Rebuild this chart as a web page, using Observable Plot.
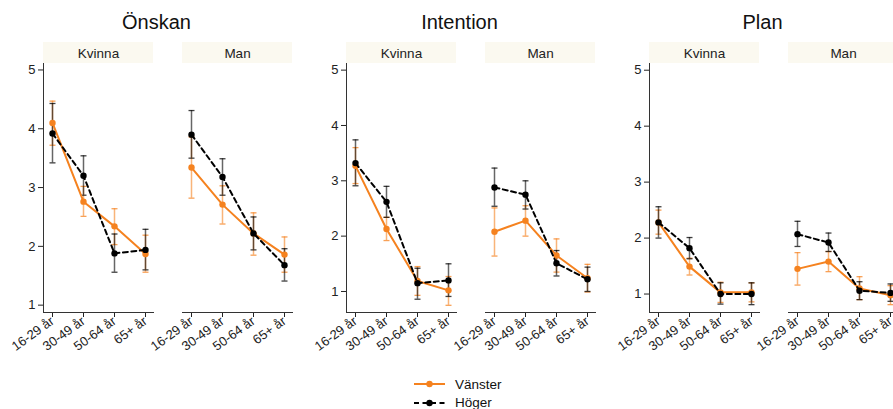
<!DOCTYPE html>
<html><head><meta charset="utf-8">
<script src="https://cdn.jsdelivr.net/npm/d3@7"></script>
<script src="https://cdn.jsdelivr.net/npm/@observablehq/plot@0.6"></script>
<style>
body{margin:0;background:#fff;font-family:"Liberation Sans",Arial,sans-serif;}
#wrap{position:relative;width:893px;height:409px;overflow:hidden;}
#row{display:flex;width:909px;}
.group{width:303px;flex:none;}
.title{height:36px;box-sizing:border-box;padding-top:12px;padding-left:10px;text-align:center;font-size:20px;line-height:20px;color:#111;}
#legend{position:absolute;left:414px;top:375px;font-size:13.5px;color:#111;}
.lg{display:flex;align-items:center;height:18.5px;}
.lg svg{margin-right:10px;}
</style></head><body>
<div id="wrap"><div id="row"></div><div id="legend"></div></div>
<script>
const measures = ["Önskan", "Intention", "Plan"];
const sexes = ["Kvinna", "Man"];
const ages = ["16-29 år", "30-49 år", "50-64 år", "65+ år"];
const parties = ["Vänster", "Höger"];
const yTicks = [1, 2, 3, 4, 5];

// values: Kvinna (4 age groups), then Man (4 age groups)
const onskanVansterMean = [4.10, 2.76, 2.34, 1.87, 3.34, 2.71, 2.22, 1.86];
const onskanVansterLo   = [3.72, 2.51, 2.03, 1.56, 2.82, 2.38, 1.85, 1.56];
const onskanVansterHi   = [4.47, 3.02, 2.64, 2.19, 3.86, 3.03, 2.57, 2.16];
const onskanHogerMean   = [3.92, 3.20, 1.88, 1.94, 3.90, 3.18, 2.22, 1.68];
const onskanHogerLo     = [3.42, 2.87, 1.56, 1.60, 3.50, 2.87, 1.94, 1.41];
const onskanHogerHi     = [4.43, 3.54, 2.21, 2.29, 4.31, 3.49, 2.50, 1.96];

const intentionVansterMean = [3.27, 2.13, 1.19, 1.02, 2.08, 2.28, 1.65, 1.24];
const intentionVansterLo   = [2.95, 1.92, 0.93, 0.75, 1.64, 2.00, 1.35, 0.99];
const intentionVansterHi   = [3.60, 2.34, 1.45, 1.27, 2.51, 2.55, 1.95, 1.49];
const intentionHogerMean   = [3.32, 2.62, 1.15, 1.20, 2.88, 2.75, 1.51, 1.22];
const intentionHogerLo     = [2.91, 2.34, 0.86, 0.91, 2.54, 2.49, 1.28, 1.00];
const intentionHogerHi     = [3.74, 2.90, 1.42, 1.50, 3.23, 3.00, 1.74, 1.44];

const planVansterMean = [2.28, 1.49, 1.03, 1.03, 1.45, 1.58, 1.10, 0.98];
const planVansterLo   = [2.07, 1.34, 0.85, 0.86, 1.16, 1.40, 0.90, 0.81];
const planVansterHi   = [2.50, 1.64, 1.21, 1.20, 1.74, 1.76, 1.31, 1.15];
const planHogerMean   = [2.28, 1.82, 1.00, 1.00, 2.07, 1.92, 1.06, 1.02];
const planHogerLo     = [2.00, 1.63, 0.82, 0.81, 1.85, 1.76, 0.90, 0.87];
const planHogerHi     = [2.56, 2.01, 1.20, 1.20, 2.30, 2.09, 1.22, 1.18];

const series = {
  "Önskan":    {"Vänster": [onskanVansterMean, onskanVansterLo, onskanVansterHi], "Höger": [onskanHogerMean, onskanHogerLo, onskanHogerHi]},
  "Intention": {"Vänster": [intentionVansterMean, intentionVansterLo, intentionVansterHi], "Höger": [intentionHogerMean, intentionHogerLo, intentionHogerHi]},
  "Plan":      {"Vänster": [planVansterMean, planVansterLo, planVansterHi], "Höger": [planHogerMean, planHogerLo, planHogerHi]}
};
const yDomains = {"Önskan": [0.875, 5.11], "Intention": [0.62, 5.12], "Plan": [0.67, 5.12]};

const colors = {"Vänster": "#f5821f", "Höger": "#000000"};
const dashes = {"Vänster": null, "Höger": "5,3.5"};

const M_TOP = 27, PLOT_H = 249, M_BOT = 54, HDR = 21;
const cap = {draw(ctx) { ctx.moveTo(-3, 0); ctx.lineTo(3, 0); }};

function rowsFor(m, p) {
  const [mean, lo, hi] = series[m][p];
  return mean.map((v, i) => ({sex: sexes[Math.floor(i / 4)], age: ages[i % 4], party: p, mean: v, lo: lo[i], hi: hi[i]}));
}

function makePlot(m) {
  const [y0, y1] = yDomains[m];
  const hdr = HDR / PLOT_H * (y1 - y0);
  const marks = [
    Plot.rect(sexes, {fx: d => d, y1: y1, y2: y1 + hdr, fill: "#fbf9f0"}),
    Plot.axisFx({anchor: "top", tickSize: 0, tickPadding: 6, fontSize: 13.5, label: null}),
    Plot.axisX({tickSize: 5, tickRotate: -36, fontSize: 13, tickPadding: 2, label: null}),
    Plot.axisY({ticks: yTicks, tickFormat: d => String(d), tickSize: 5, fontSize: 13, tickPadding: 3, label: null}),
    Plot.frame({anchor: "bottom", stroke: "#333"}),
    Plot.frame({anchor: "left", facetAnchor: "left", stroke: "#333"})
  ];
  for (const p of parties) {
    const d = rowsFor(m, p);
    marks.push(
      Plot.ruleX(d, {fx: "sex", x: "age", y1: "lo", y2: "hi", stroke: colors[p], strokeOpacity: 0.6, strokeWidth: 1.5}),
      Plot.dot(d, {fx: "sex", x: "age", y: "lo", symbol: cap, fill: "none", stroke: colors[p], strokeOpacity: 0.75, strokeWidth: 1.3}),
      Plot.dot(d, {fx: "sex", x: "age", y: "hi", symbol: cap, fill: "none", stroke: colors[p], strokeOpacity: 0.75, strokeWidth: 1.3})
    );
  }
  for (const p of parties) {
    const d = rowsFor(m, p);
    marks.push(
      Plot.line(d, {fx: "sex", x: "age", y: "mean", stroke: colors[p], strokeWidth: 2, strokeDasharray: dashes[p]}),
      Plot.dot(d, {fx: "sex", x: "age", y: "mean", r: 3.2, fill: colors[p], stroke: "none"})
    );
  }
  return Plot.plot({
    width: 303, height: M_TOP + PLOT_H + M_BOT,
    marginTop: M_TOP, marginBottom: M_BOT, marginLeft: 43, marginRight: 11,
    style: {fontFamily: "Liberation Sans, Arial, sans-serif", fontSize: "12px", color: "#222", background: "transparent", overflow: "visible"},
    fx: {domain: sexes, paddingInner: 0.21, paddingOuter: 0},
    x: {type: "point", domain: ages, padding: 0.274},
    y: {domain: [y0, y1]},
    marks
  });
}

const row = document.getElementById("row");
for (const m of measures) {
  const g = document.createElement("div");
  g.className = "group";
  const t = document.createElement("div");
  t.className = "title";
  t.textContent = m;
  g.appendChild(t);
  g.appendChild(makePlot(m));
  row.appendChild(g);
}

const lg = document.getElementById("legend");
for (const p of parties) {
  const r = document.createElement("div");
  r.className = "lg";
  const dash = dashes[p] ? `stroke-dasharray="${dashes[p]}"` : "";
  r.innerHTML = `<svg width="31" height="12"><line x1="0" x2="31" y1="6" y2="6" stroke="${colors[p]}" stroke-width="2" ${dash}/><circle cx="15.5" cy="6" r="3.2" fill="${colors[p]}"/></svg><span>${p}</span>`;
  lg.appendChild(r);
}
</script>
</body></html>
